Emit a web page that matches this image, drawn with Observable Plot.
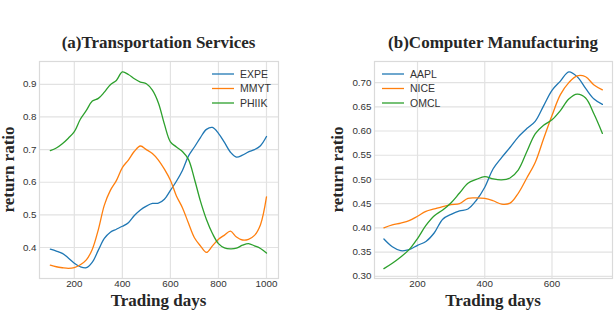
<!DOCTYPE html>
<html>
<head>
<meta charset="utf-8">
<script src="https://cdn.jsdelivr.net/npm/d3@7"></script>
<script src="https://cdn.jsdelivr.net/npm/@observablehq/plot@0.6"></script>
<style>
  html, body { margin: 0; padding: 0; background: #fff; }
  #chart { position: relative; width: 614px; height: 312px; background: #fff; overflow: hidden; }
  .panel { position: absolute; top: 0; }
  #overlay { position: absolute; left: 0; top: 0; pointer-events: none; }
</style>
</head>
<body>
<div id="chart">
  <div class="panel" id="left" style="left:0px"></div>
  <div class="panel" id="right" style="left:307px"></div>
  <svg id="overlay" width="614" height="312"></svg>
</div>
<script>
// ---------- data ----------
const leftTitle = "(a)Transportation Services";
const rightTitle = "(b)Computer Manufacturing";
const xLabel = "Trading days";
const yLabel = "return ratio";

const leftSeries = ["EXPE", "MMYT", "PHIIK"];
const rightSeries = ["AAPL", "NICE", "OMCL"];
const seriesColors = ["#1f77b4", "#ff7f0e", "#2ca02c"];

const leftDays = [100,125,150,175,200,225,250,275,300,325,350,375,400,425,450,475,500,525,550,575,600,625,650,675,700,725,750,775,800,825,850,875,900,925,950,975,1000];
const EXPE  = [0.395,0.389,0.382,0.368,0.352,0.341,0.338,0.355,0.392,0.428,0.447,0.456,0.465,0.476,0.498,0.515,0.527,0.535,0.536,0.548,0.575,0.603,0.636,0.680,0.708,0.737,0.762,0.768,0.750,0.722,0.692,0.677,0.683,0.693,0.700,0.712,0.740];
const MMYT  = [0.346,0.341,0.338,0.336,0.338,0.347,0.362,0.395,0.455,0.530,0.575,0.605,0.645,0.668,0.695,0.711,0.700,0.688,0.668,0.640,0.606,0.558,0.522,0.475,0.430,0.405,0.385,0.405,0.425,0.438,0.450,0.432,0.423,0.425,0.437,0.470,0.555];
const PHIIK = [0.697,0.705,0.718,0.735,0.755,0.793,0.820,0.849,0.857,0.876,0.899,0.912,0.938,0.930,0.917,0.907,0.902,0.882,0.843,0.778,0.724,0.708,0.694,0.670,0.610,0.542,0.486,0.443,0.412,0.399,0.396,0.398,0.407,0.412,0.405,0.397,0.383];

const rightDays = [100,125,150,175,200,225,250,275,300,325,350,375,400,425,450,475,500,525,550,575,600,625,650,675,700,725,750];
const AAPL = [0.377,0.361,0.353,0.355,0.364,0.372,0.390,0.418,0.428,0.435,0.439,0.457,0.484,0.522,0.545,0.566,0.588,0.605,0.620,0.652,0.684,0.703,0.722,0.712,0.688,0.666,0.655];
const NICE = [0.400,0.406,0.410,0.415,0.424,0.434,0.439,0.444,0.448,0.450,0.461,0.462,0.461,0.456,0.449,0.451,0.472,0.503,0.535,0.584,0.632,0.675,0.700,0.714,0.712,0.695,0.685];
const OMCL = [0.316,0.327,0.340,0.355,0.378,0.405,0.425,0.437,0.452,0.472,0.492,0.500,0.506,0.501,0.499,0.503,0.520,0.557,0.594,0.612,0.623,0.642,0.666,0.676,0.668,0.635,0.595];

const leftXTicks = [200, 400, 600, 800, 1000];
const leftYTicks = [0.4, 0.5, 0.6, 0.7, 0.8, 0.9];
const rightXTicks = [200, 400, 600];
const rightYTicks = [0.30, 0.35, 0.40, 0.45, 0.50, 0.55, 0.60, 0.65, 0.70];

// ---------- build tables ----------
function toRows(days, names, values) {
  const rows = [];
  names.forEach((n, i) => days.forEach((d, j) => rows.push({day: d, value: values[i][j], series: n})));
  return rows;
}
const leftRows = toRows(leftDays, leftSeries, [EXPE, MMYT, PHIIK]);
const rightRows = toRows(rightDays, rightSeries, [AAPL, NICE, OMCL]);

const gridColor = "#e2e2e2";
const tickStyle = {fontFamily: "'Liberation Sans', Arial, sans-serif", fontSize: "9.8px", color: "#333", background: "transparent"};

function panel(rows, names, opts) {
  return Plot.plot({
    width: opts.width, height: 312,
    marginLeft: opts.ml, marginRight: opts.mr, marginTop: 61, marginBottom: 34,
    style: tickStyle,
    x: {domain: opts.xd, ticks: opts.xt, tickSize: 0, tickPadding: 2, label: null, tickFormat: d3.format("d")},
    y: {domain: opts.yd, ticks: opts.yt, tickSize: 0, tickPadding: 3, label: null, tickFormat: opts.yf},
    color: {domain: names, range: seriesColors},
    marks: [
      Plot.gridX(opts.xt, {stroke: gridColor, strokeOpacity: 1, strokeWidth: 1.2}),
      Plot.gridY(opts.yt, {stroke: gridColor, strokeOpacity: 1, strokeWidth: 1.2}),
      Plot.frame({stroke: "#dadada", strokeWidth: 1.2}),
      Plot.line(rows, {x: "day", y: "value", z: "series", stroke: "series", curve: "catmull-rom", strokeWidth: 1.3})
    ]
  });
}

document.getElementById("left").append(panel(leftRows, leftSeries, {
  width: 300, ml: 39, mr: 22, xd: [55, 1050], yd: [0.305, 0.97], xt: leftXTicks, yt: leftYTicks, yf: d3.format(".1f")
}));
document.getElementById("right").append(panel(rightRows, rightSeries, {
  width: 307, ml: 67, mr: 2, xd: [72, 780], yd: [0.2955, 0.7435], xt: rightXTicks, yt: rightYTicks, yf: d3.format(".2f")
}));

// ---------- titles, axis labels, legends ----------
const ov = d3.select("#overlay");
const serif = "'Liberation Serif', 'Times New Roman', serif";
function label(x, y, txt, rot) {
  const t = ov.append("text").attr("x", x).attr("y", y).attr("text-anchor", "middle")
    .attr("font-family", serif).attr("font-weight", "bold").attr("font-size", 17).attr("fill", "#262626").text(txt);
  if (rot) t.attr("transform", `rotate(-90 ${x} ${y})`);
}
label(158.5, 47.5, leftTitle);
label(493, 47.5, rightTitle);
label(158.5, 306, xLabel);
label(493, 306, xLabel);
label(13.5, 169.5, yLabel, true);
label(342.5, 169.5, yLabel, true);

function legend(x0, names) {
  const rowsY = [74, 88.5, 103];
  names.forEach((n, i) => {
    ov.append("line").attr("x1", x0).attr("x2", x0 + 22).attr("y1", rowsY[i]).attr("y2", rowsY[i])
      .attr("stroke", seriesColors[i]).attr("stroke-width", 1.3);
    ov.append("text").attr("x", x0 + 28).attr("y", rowsY[i]).attr("dy", "0.35em")
      .attr("font-family", "'Liberation Sans', Arial, sans-serif").attr("font-size", 10.5).attr("fill", "#333").text(n);
  });
}
legend(212, leftSeries);
legend(382, rightSeries);
</script>
</body>
</html>
